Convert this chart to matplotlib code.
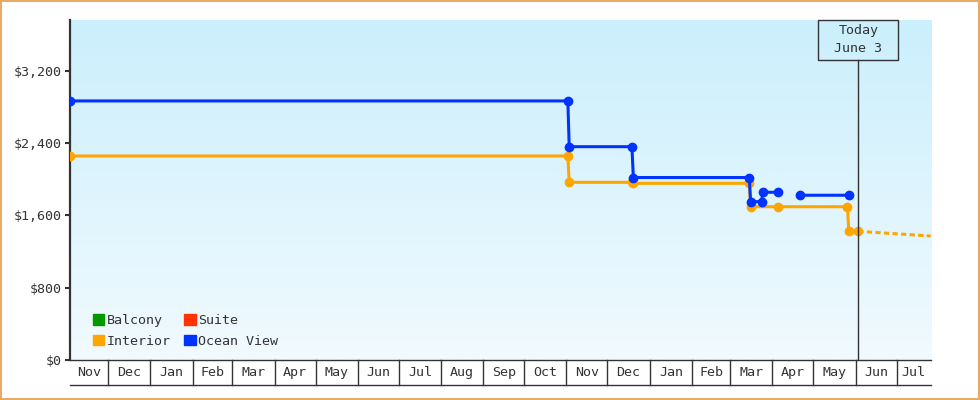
import datetime as dt
import numpy as np
import matplotlib
matplotlib.use("Agg")
import matplotlib.pyplot as plt
import matplotlib.dates as mdates
from matplotlib.patches import Rectangle, Patch
from matplotlib.transforms import blended_transform_factory

# ---------------- data ----------------
D = dt.date
ocean_dates = [D(2019, 11, 3), D(2020, 11, 2), D(2020, 11, 3), D(2020, 12, 19), D(2020, 12, 20),
               D(2021, 3, 15), D(2021, 3, 16), D(2021, 3, 24), D(2021, 3, 25), D(2021, 4, 5),
               D(2021, 4, 13),
               D(2021, 4, 21), D(2021, 5, 27)]
ocean_prices = [2865, 2865, 2359, 2359, 2018,
                2018, 1751, 1751, 1855, 1855,
                np.nan,
                1822, 1822]

interior_dates = [D(2019, 11, 3), D(2020, 11, 2), D(2020, 11, 3), D(2020, 12, 19), D(2020, 12, 20),
                  D(2021, 3, 15), D(2021, 3, 16), D(2021, 4, 5), D(2021, 5, 26), D(2021, 5, 27),
                  D(2021, 6, 3)]
interior_prices = [2256, 2256, 1965, 1965, 1954,
                   1954, 1695, 1695, 1695, 1423,
                   1423]

forecast_dates = [D(2021, 6, 3), D(2021, 7, 26)]
forecast_prices = [1423, 1371]

legend_labels = ["Balcony", "Interior", "Suite", "Ocean View"]
legend_colors = ["#009900", "#ffa500", "#ff3300", "#0033ff"]

y_ticks = [0, 800, 1600, 2400, 3200]
x_start = dt.datetime(2019, 11, 3)
x_end = dt.datetime(2021, 7, 26, 6)
today = dt.datetime(2021, 6, 3)
today_text = "Today\nJune 3"

# ---------------- style ----------------
TXT = "#333333"
BLUE = "#0033ff"
ORANGE = "#ffa500"
FONT = "DejaVu Sans Mono"
plt.rcParams["font.family"] = [FONT, "DejaVu Sans"]

W, H = 980, 400
fig = plt.figure(figsize=(W / 100, H / 100), dpi=100)
fig.patch.set_facecolor("white")
# outer border
fig.add_artist(Rectangle((0.001, 0.002), 0.998, 0.996, transform=fig.transFigure,
                         fill=False, edgecolor="#e9aa66", linewidth=1.5))

L, R, T, B = 70, 931, 20, 360
ax = fig.add_axes([L / W, (H - B) / H, (R - L) / W, (B - T) / H])

# gradient background
top_c = np.array([203, 239, 252]) / 255
bot_c = np.array([241, 250, 255]) / 255
t = np.linspace(0, 1, 256)[:, None, None]
grad = top_c * (1 - t) + bot_c * t
ax.imshow(grad, extent=[0, 1, 0, 1], transform=ax.transAxes, aspect="auto", zorder=0)

x0 = mdates.date2num(x_start)
x1 = mdates.date2num(x_end)

# series
lw = 2.2
ms = 6
ax.plot([dt.datetime.combine(d, dt.time()) for d in forecast_dates], forecast_prices,
        color=ORANGE, lw=lw, dashes=(1.7, 1.1), zorder=3)
ax.plot([dt.datetime.combine(d, dt.time()) for d in interior_dates], interior_prices,
        color=ORANGE, lw=lw, marker="o", ms=ms, mec=ORANGE, zorder=4)
ax.plot([dt.datetime.combine(d, dt.time()) for d in ocean_dates], ocean_prices,
        color=BLUE, lw=lw, marker="o", ms=ms, mec=BLUE, zorder=5)

ax.set_xlim(x0, x1)
ax.set_ylim(0, 3760)

# y axis
ax.set_yticks(y_ticks)
ax.set_yticklabels([f"${v:,}" for v in y_ticks], fontsize=9.6, color=TXT)
ax.tick_params(axis="y", length=3.8, width=1.5, color=TXT, pad=2)
ax.set_xticks([])
for s in ["top", "right"]:
    ax.spines[s].set_visible(False)
ax.spines["left"].set_color(TXT)
ax.spines["left"].set_linewidth(1.6)
ax.spines["bottom"].set_color(TXT)
ax.spines["bottom"].set_linewidth(1.0)

# month band below axis
trans = blended_transform_factory(ax.transData, ax.transAxes)
band = 25 / (B - T)
bounds = [x0]
m = dt.datetime(2019, 12, 1)
while mdates.date2num(m) < x1:
    bounds.append(mdates.date2num(m))
    m = dt.datetime(m.year + (m.month == 12), m.month % 12 + 1, 1)
bounds.append(x1)
for b in bounds[1:-1]:
    ax.plot([b, b], [0, -band], transform=trans, color=TXT, lw=1.0, clip_on=False)
ax.plot([x0, x1], [-band, -band], transform=trans, color=TXT, lw=1.0, clip_on=False)
for a, b in zip(bounds[:-1], bounds[1:]):
    lab = mdates.num2date(a + 0.5).strftime("%b")
    ax.text((a + b) / 2, -band / 2, lab, transform=trans, ha="center", va="center",
            fontsize=9.6, color=TXT, clip_on=False)

# today marker
tnum = mdates.date2num(today)
px_per_day = (R - L) / (x1 - x0)
bw = 80 / px_per_day
bh = 40 / (B - T)
ax.add_patch(Rectangle((tnum - bw / 2, 1 - bh), bw, bh, transform=trans, fill=False,
                       edgecolor=TXT, lw=1.0, zorder=6, clip_on=False))
ax.plot([tnum, tnum], [0, 1 - bh], transform=trans, color=TXT, lw=1.0, zorder=6)
ax.text(tnum, 1 - bh / 2 + 0.5 / (B - T), today_text, transform=trans, ha="center", va="center",
        fontsize=9.6, color=TXT, linespacing=1.5, zorder=7)

# legend
handles = [Patch(facecolor=c, edgecolor=c, label=l) for l, c in zip(legend_labels, legend_colors)]
leg = ax.legend(handles=handles, ncol=2, loc="lower left", bbox_to_anchor=(0.0205, 0.021),
                frameon=False, fontsize=9.6, handlelength=0.85, handleheight=0.85,
                handletextpad=0.2, columnspacing=1.0, labelspacing=0.55, borderaxespad=0)
for txt in leg.get_texts():
    txt.set_color(TXT)

fig.savefig("out.png", dpi=100)
